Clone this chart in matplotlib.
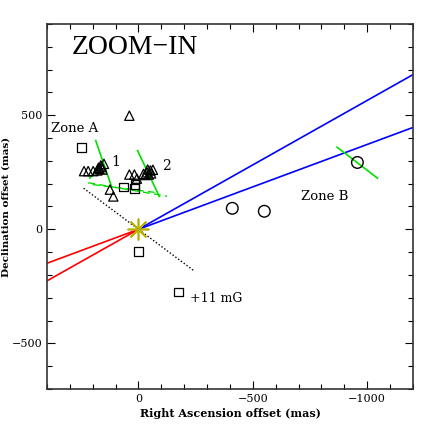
import matplotlib
matplotlib.use("Agg")
import matplotlib.pyplot as plt
import numpy as np
from matplotlib.ticker import MultipleLocator

plt.rcParams['font.family'] = ['DejaVu Serif']

# Data (mas)
sq_ra = [248, 66, 18, 15, 0, -175]
sq_dec = [359, 185, 180, 195, -96, -275]
circ_ra = [-410, -550, -957]
circ_dec = [92, 79, 293]
tri_ra = [40, 238, 220, 198, 180, 161, 151, 170, 165, 158, 175, 125, 110,
          40, 18, 7, -22, -37, -52, -63, -45, -30, -55, -40]
tri_dec = [498, 255, 255, 255, 258, 275, 287, 265, 280, 262, 270, 174, 144,
           240, 240, 222, 243, 250, 258, 261, 240, 238, 245, 262]
slope_outer = -0.565
slope_inner = -0.372
red_ra = [0, 400]
blue_ra = [0, -1200]
dot_ra = [240, -240]
dot_dec = [180, -180]
green_solid = [((187, 389), (117, 185)), ((213, 224), (161, 290)),
               ((4, 345), (-91, 144)), ((-868, 360), (-1045, 224))]
green_dashed = [((220, 204), (-125, 145)), ((200, 196), (-70, 162))]
xticks = [0, -500, -1000]
yticks = [-500, 0, 500]

fig = plt.figure(figsize=(4.36, 4.36), dpi=100)
ax = fig.add_axes([0.1078, 0.1078, 0.8394, 0.8372])
ax.set_xlim(400, -1200)
ax.set_ylim(-700, 900)

for s in (slope_outer, slope_inner):
    ax.plot(red_ra, [s * v for v in red_ra], color='#ff0000', lw=1.2)
    ax.plot(blue_ra, [s * v for v in blue_ra], color='#0000ff', lw=1.2)
ax.plot(dot_ra, dot_dec, color='black', ls=(0, (1, 1.5)), lw=1.0)
for (a, b) in green_solid:
    ax.plot([a[0], b[0]], [a[1], b[1]], color='#00e000', lw=1.2)
for (a, b) in green_dashed:
    ax.plot([a[0], b[0]], [a[1], b[1]], color='#00e000', lw=1.0, ls=(0, (5, 3)))

ax.scatter(tri_ra, tri_dec, marker='^', s=45, facecolors='none', edgecolors='black', lw=0.9, zorder=5)
ax.scatter(sq_ra, sq_dec, marker='s', s=40, facecolors='none', edgecolors='black', lw=0.9, zorder=5)
ax.scatter(circ_ra, circ_dec, marker='o', s=70, facecolors='none', edgecolors='black', lw=1.0, zorder=5)
ax.scatter([0], [0], marker=(8, 2, 0), s=220, color='#b8b000', lw=1.2, zorder=6)

ax.text(292, 796, 'ZOOM\u2212IN', fontsize=20, ha='left', va='center', family=['Liberation Serif'])
ax.text(381, 442, 'Zone A', fontsize=9.5, ha='left', va='center')
ax.text(-710, 144, 'Zone B', fontsize=9.5, ha='left', va='center')
ax.text(100, 294, '1', fontsize=10, ha='center', va='center')
ax.text(-122, 277, '2', fontsize=10, ha='center', va='center')
ax.text(-224, -302, '+11 mG', fontsize=9, ha='left', va='center')

ax.set_xticks(xticks)
ax.set_yticks(yticks)
ax.set_xticklabels(['0', '\u2212500', '\u22121000'])
ax.set_yticklabels(['\u2212500', '0', '500'])
ax.xaxis.set_minor_locator(MultipleLocator(100))
ax.yaxis.set_minor_locator(MultipleLocator(100))
ax.tick_params(which='both', direction='in', top=True, right=True, labelsize=8, color='black')
ax.tick_params(which='major', length=6, width=0.8)
ax.tick_params(which='minor', length=3.5, width=0.8)
for sp in ax.spines.values():
    sp.set_linewidth(1.2)
    sp.set_color('#333333')
ax.set_xlabel('Right Ascension offset (mas)', fontsize=8, fontweight='bold', labelpad=3)
ax.set_ylabel('Declination offset (mas)', fontsize=7.5, fontweight='bold')
ax.yaxis.set_label_coords(-0.1, 0.5)

fig.savefig('out.png', dpi=100)
